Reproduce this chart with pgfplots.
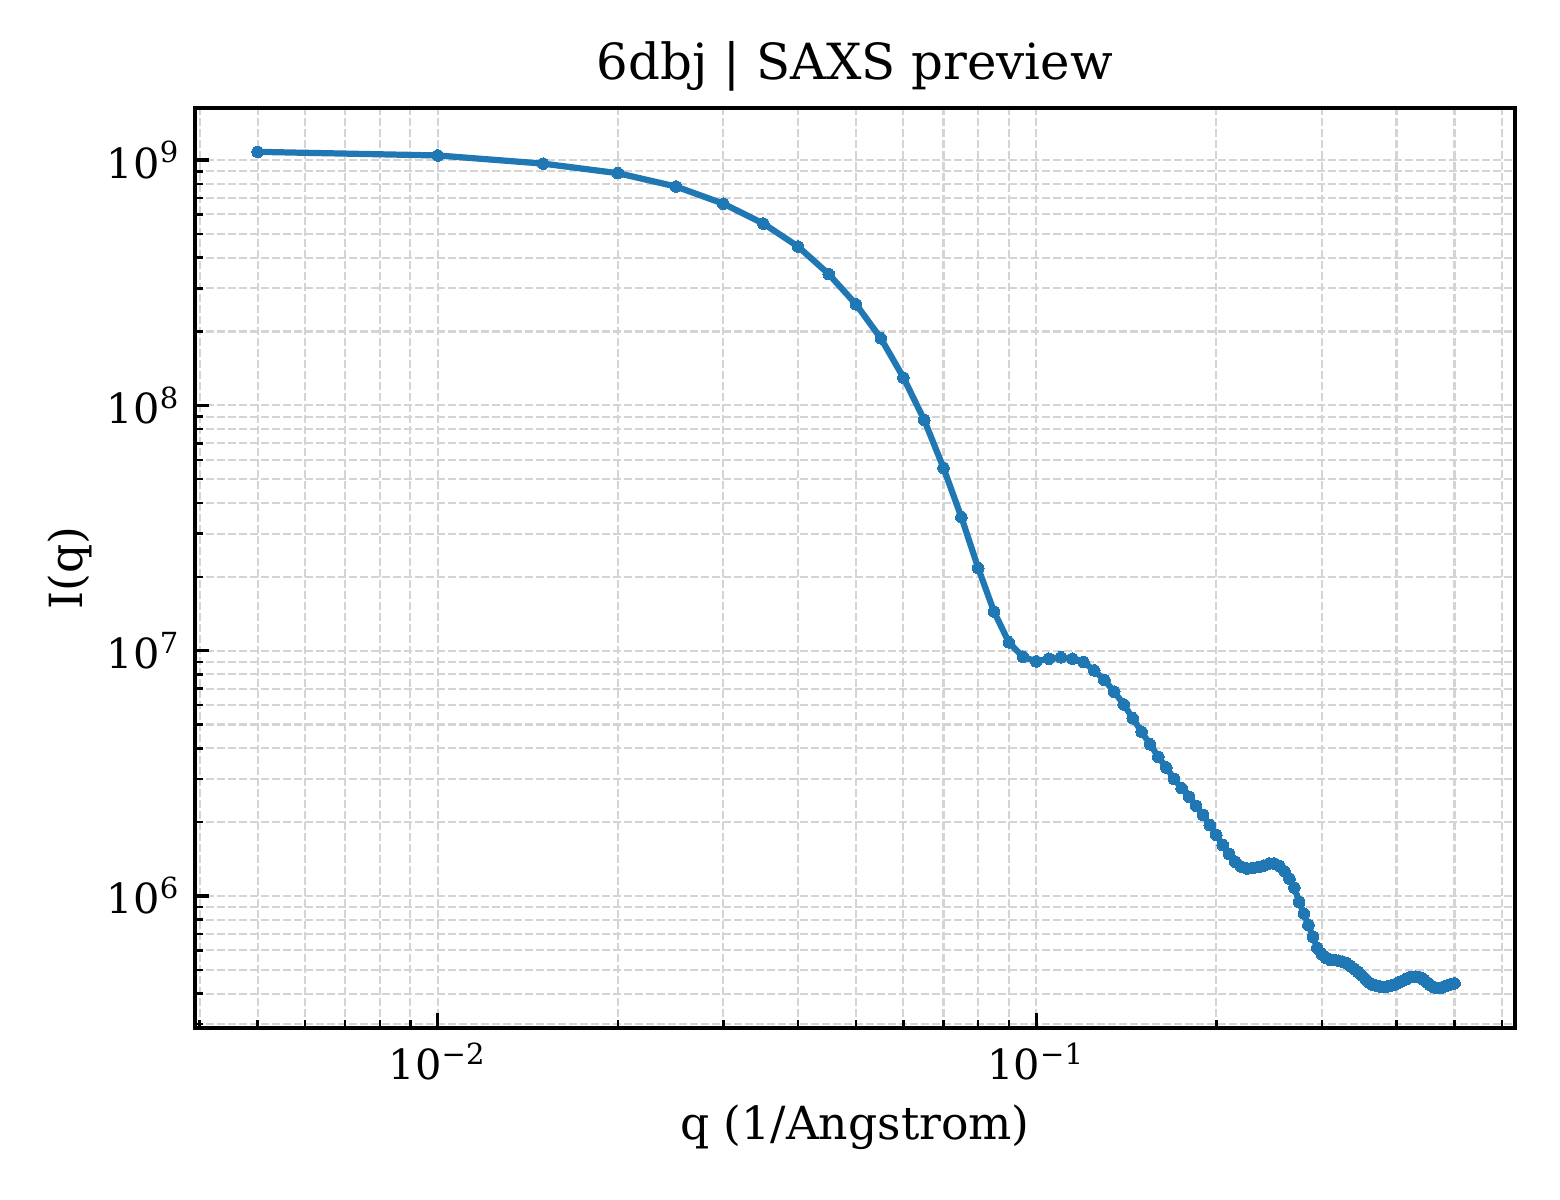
\documentclass[border=0pt]{standalone}
\usepackage{fontspec}
\setmainfont{DejaVu Serif}
\usepackage{pgfplots}
\pgfplotsset{compat=1.18}
\usepackage{pgfplotstable}

\definecolor{tabblue}{HTML}{1F77B4}
\definecolor{gridgray}{HTML}{D4D4D4}

% q [1/A], I(q)
\pgfplotstableread{
q      I
0.005  1.080e9
0.010  1.044e9
0.015  9.67e8
0.020  8.84e8
0.025  7.80e8
0.030  6.64e8
0.035  5.51e8
0.040  4.44e8
0.045  3.43e8
0.050  2.58e8
0.055  1.877e8
0.060  1.298e8
0.065  8.71e7
0.070  5.56e7
0.075  3.50e7
0.080  2.17e7
0.085  1.444e7
0.090  1.081e7
0.095  9.44e6
0.100  9.04e6
0.105  9.27e6
0.110  9.39e6
0.115  9.27e6
0.120  8.98e6
0.125  8.31e6
0.130  7.59e6
0.135  6.80e6
0.140  6.04e6
0.145  5.30e6
0.150  4.67e6
0.155  4.15e6
0.160  3.69e6
0.165  3.34e6
0.170  3.00e6
0.175  2.75e6
0.180  2.54e6
0.185  2.33e6
0.190  2.14e6
0.195  1.945e6
0.200  1.771e6
0.205  1.613e6
0.210  1.482e6
0.215  1.378e6
0.220  1.318e6
0.225  1.293e6
0.230  1.299e6
0.235  1.312e6
0.240  1.330e6
0.245  1.356e6
0.250  1.356e6
0.255  1.324e6
0.260  1.258e6
0.265  1.177e6
0.270  1.082e6
0.275  9.44e5
0.280  8.48e5
0.285  7.61e5
0.290  6.80e5
0.295  6.13e5
0.300  5.80e5
0.305  5.58e5
0.310  5.48e5
0.315  5.48e5
0.320  5.45e5
0.325  5.40e5
0.330  5.33e5
0.335  5.18e5
0.340  5.04e5
0.345  4.90e5
0.350  4.74e5
0.355  4.58e5
0.360  4.44e5
0.365  4.35e5
0.370  4.31e5
0.375  4.28e5
0.380  4.26e5
0.385  4.27e5
0.390  4.30e5
0.395  4.33e5
0.400  4.39e5
0.405  4.46e5
0.410  4.52e5
0.415  4.58e5
0.420  4.65e5
0.425  4.68e5
0.430  4.69e5
0.435  4.68e5
0.440  4.63e5
0.445  4.54e5
0.450  4.44e5
0.455  4.33e5
0.460  4.27e5
0.465  4.22e5
0.470  4.21e5
0.475  4.23e5
0.480  4.27e5
0.485  4.31e5
0.490  4.35e5
0.495  4.38e5
0.500  4.40e5
}\saxs

\begin{document}
\begin{tikzpicture}
  \begin{axis}[
    name=ax,
    scale only axis,
    width=318pt, height=221.6pt,
    xmode=log, ymode=log,
    xmin=0.00393, xmax=0.631,
    ymin=2.9e5, ymax=1.63e9,
    xtick={0.01,0.1},
    xticklabels={10\textsuperscript{−2},10\textsuperscript{−1}},
    minor xtick={0.004,0.005,0.006,0.007,0.008,0.009,0.02,0.03,0.04,0.05,0.06,0.07,0.08,0.09,0.2,0.3,0.4,0.5,0.6},
    ytick={1e6,1e7,1e8,1e9},
    yticklabels={10\textsuperscript{6},10\textsuperscript{7},10\textsuperscript{8},10\textsuperscript{9}},
    minor ytick={3e5,4e5,5e5,6e5,7e5,8e5,9e5,2e6,3e6,4e6,5e6,6e6,7e6,8e6,9e6,2e7,3e7,4e7,5e7,6e7,7e7,8e7,9e7,2e8,3e8,4e8,5e8,6e8,7e8,8e8,9e8},
    xtick pos=left, ytick pos=left,
    tick align=inside,
    major tick length=3.5pt, minor tick length=2pt,
    every major tick/.style={black, line width=0.8pt},
    every minor tick/.style={black, line width=0.6pt},
    axis line style={line width=1pt},
    grid=both,
    major grid style={gridgray, line width=0.5pt, dash pattern=on 1.85pt off 0.8pt},
    minor grid style={gridgray, line width=0.5pt, dash pattern=on 1.85pt off 0.8pt},
    tick label style={font=\fontsize{10}{12}\selectfont},
    label style={font=\fontsize{11}{13}\selectfont},
    title style={font=\fontsize{12}{14}\selectfont, at={(axis description cs:0.5,1.0043)}, anchor=base},
    xlabel style={at={(axis description cs:0.5,-0.1218)}, anchor=base},
    ylabel style={at={(axis description cs:-0.0855,0.5)}, rotate=0, anchor=base},
    title={6dbj | SAXS preview},
    xlabel={q (1/Angstrom)},
    ylabel={I(q)},
  ]
    \addplot[tabblue, line width=1.5pt, mark=*, mark size=1.4pt,
      mark options={solid, fill=tabblue, draw=tabblue, line width=0pt}]
      table[x=q, y=I] {\saxs};
  \end{axis}
  \pgfresetboundingbox
  \path (ax.south west) ++(-46.98pt,-41.43pt) coordinate (bl);
  \path (ax.north east) ++(10.84pt,26.02pt) coordinate (tr);
  \path[use as bounding box] (bl) rectangle (tr);
\end{tikzpicture}
\end{document}
